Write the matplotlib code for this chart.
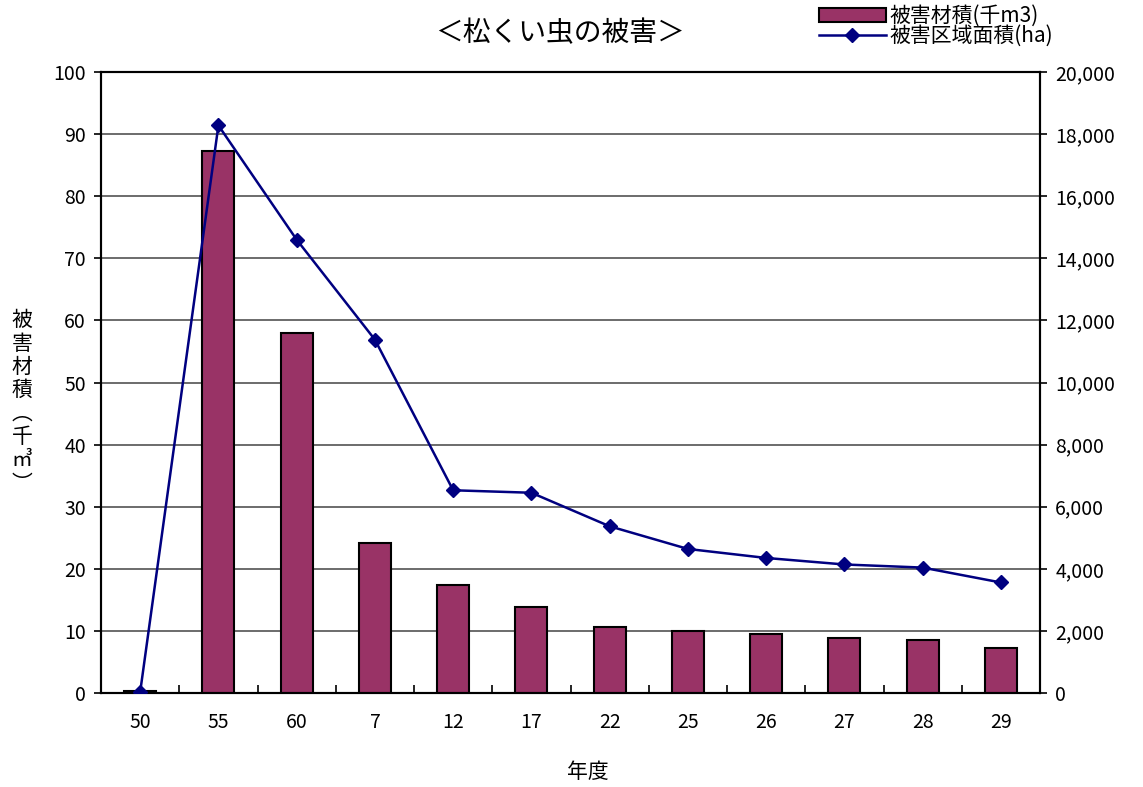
import matplotlib
matplotlib.use("Agg")
import matplotlib.pyplot as plt
import numpy as np

plt.rcParams['font.family'] = ['Noto Sans CJK JP', 'DejaVu Sans']

years = ["50", "55", "60", "7", "12", "17", "22", "25", "26", "27", "28", "29"]
volume = [0.3, 87.3, 58.0, 24.2, 17.4, 13.9, 10.7, 10.0, 9.5, 8.9, 8.6, 7.3]   # 千m3
area = [30, 18280, 14600, 11380, 6530, 6450, 5370, 4640, 4350, 4140, 4040, 3560]  # ha

fig = plt.figure(figsize=(11.43, 7.87), dpi=100)
ax = fig.add_axes([0.0884, 0.1194, 0.8215, 0.7891])
x = np.arange(len(years))

bars = ax.bar(x, volume, width=0.41, color='#993366', edgecolor='black', linewidth=1.5,
              zorder=3, label='被害材積(千m3)')
ax.set_xlim(-0.5, len(years) - 0.5)
ax.set_ylim(0, 100)
ax.set_yticks(range(0, 101, 10))
ax.yaxis.grid(True, color='#444444', linewidth=1.1, zorder=0)
ax.set_xticks(x)
ax.set_xticklabels(years)
ax.set_xticks(np.arange(-0.5, len(years), 1), minor=True)
ax.tick_params(axis='x', which='major', length=0, pad=14, labelsize=14)
ax.tick_params(axis='x', which='minor', direction='in', length=6, width=1.2)
ax.tick_params(axis='y', length=5, width=1.2, labelsize=14, pad=6)
for s in ax.spines.values():
    s.set_linewidth(1.5)

ax2 = ax.twinx()
line, = ax2.plot(x, area, color='#000080', linewidth=1.8, marker='D', markersize=7,
                 label='被害区域面積(ha)', zorder=4)
ax2.set_ylim(0, 20000)
ax2.set_yticks(range(0, 20001, 2000))
ax2.set_yticklabels([f"{v:,}" for v in range(0, 20001, 2000)])
ax2.tick_params(axis='y', length=5, width=1.2, labelsize=14, pad=6)
for s in ax2.spines.values():
    s.set_linewidth(1.5)

fig.text(0.49, 0.958, '＜松くい虫の被害＞', ha='center', va='center', fontsize=20)
fig.text(588 / 1143, 1 - 772 / 787, '年度', ha='center', va='center', fontsize=15)
fig.text(22 / 1143, 1 - 402 / 787, '被\n害\n材\n積\n︵\n千\n㎥\n︶', ha='center', va='center',
         fontsize=15, linespacing=1.08)

fig.legend(handles=[bars, line], loc='upper right', bbox_to_anchor=(1068 / 1143, 1.012),
           frameon=False, fontsize=15, handlelength=3.2, handletextpad=0.2,
           labelspacing=-0.1, borderpad=0.2)

fig.savefig("out.png", dpi=100)
